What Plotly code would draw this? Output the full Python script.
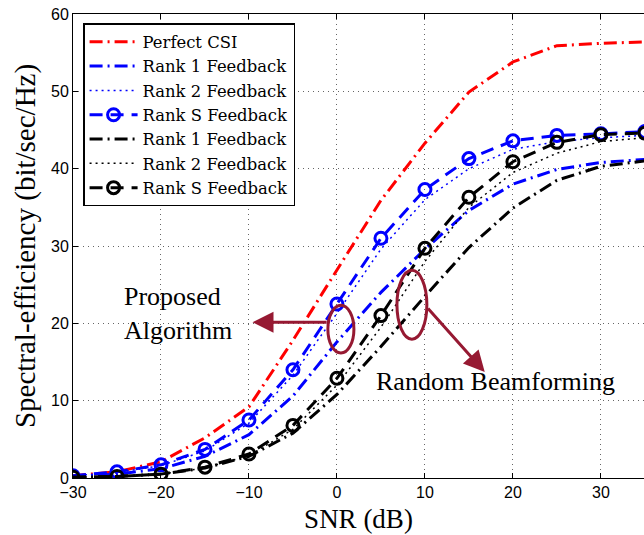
import plotly.graph_objects as go

snr = [-30, -25, -20, -15, -10, -5, 0, 5, 10, 15, 20, 25, 30, 35]

perfect_csi = [0.3, 0.8, 2.1, 5.2, 9.2, 17.8, 26.9, 35.9, 43.3, 49.9, 53.8, 55.9, 56.2, 56.4]
pa_rank1 = [0.2, 0.5, 1.2, 2.8, 5.6, 10.6, 17.6, 24.0, 29.6, 34.6, 38.0, 39.9, 40.8, 41.2]
pa_rank2 = [0.3, 0.7, 1.6, 3.5, 7.1, 13.3, 21.3, 29.6, 36.0, 40.0, 42.5, 43.5, 44.0, 44.3]
pa_rankS = [0.3, 0.8, 1.7, 3.7, 7.5, 14.0, 22.5, 31.0, 37.3, 41.3, 43.6, 44.3, 44.5, 44.8]
rb_rank1 = [0.1, 0.2, 0.5, 1.3, 2.8, 5.8, 10.8, 17.0, 23.5, 29.8, 34.9, 38.5, 40.3, 41.0]
rb_rank2 = [0.1, 0.2, 0.5, 1.3, 2.9, 6.3, 12.0, 19.5, 28.0, 35.0, 39.5, 42.0, 43.5, 44.0]
rb_rankS = [0.1, 0.2, 0.5, 1.4, 3.1, 6.8, 12.9, 21.0, 29.7, 36.3, 40.9, 43.4, 44.4, 44.6]

names = ["Perfect CSI", "Rank 1 Feedback", "Rank 2 Feedback", "Rank S Feedback",
         "Rank 1 Feedback", "Rank 2 Feedback", "Rank S Feedback"]

ARROW = "rgb(150,25,50)"
DASHDOT = "13px,5px,2px,5px"
DASH = "13px,8px"
DOT = "2px,4px"

fig = go.Figure()

def add(y, name, color, dash, width, marker=False):
    fig.add_trace(go.Scatter(
        x=snr, y=y, name=name,
        mode="lines+markers" if marker else "lines",
        line=dict(color=color, dash=dash, width=width),
        marker=dict(symbol="circle-open", size=12, color=color,
                    line=dict(width=3, color=color)) if marker else None,
    ))

add(perfect_csi, names[0], "rgb(255,0,0)", DASHDOT, 3)
add(pa_rank1, names[1], "rgb(0,0,255)", DASHDOT, 3)
add(pa_rank2, names[2], "rgb(0,0,255)", DOT, 1.5)
add(pa_rankS, names[3], "rgb(0,0,255)", DASH, 3, marker=True)
add(rb_rank1, names[4], "black", DASHDOT, 3)
add(rb_rank2, names[5], "black", DOT, 1.5)
add(rb_rankS, names[6], "black", DASH, 3, marker=True)

serif = "Liberation Serif"
sans = "Liberation Sans"

fig.update_layout(
    width=644, height=535,
    margin=dict(l=73, r=0, t=14, b=57),
    plot_bgcolor="white", paper_bgcolor="white",
    showlegend=True,
    legend=dict(
        x=0.018, y=0.98, xanchor="left", yanchor="top",
        font=dict(family="DejaVu Serif", size=16.4, color="black"),
        bgcolor="white", bordercolor="black", borderwidth=1.3,
        tracegroupgap=0, itemwidth=48,
    ),
    xaxis=dict(
        range=[-30, 34.9], tickvals=[-30, -20, -10, 0, 10, 20, 30],
        ticktext=["\u221230", "\u221220", "\u221210", "0", "10", "20", "30"],
        ticks="inside", ticklen=5, tickcolor="black",
        showline=True, linecolor="black", linewidth=1, mirror="ticks",
        showgrid=True, gridcolor="rgba(0,0,0,0.6)", griddash="1px,4px", gridwidth=1,
        zeroline=False,
        tickfont=dict(family=sans, size=16, color="black"),
        title=dict(text="SNR (dB)", font=dict(family=serif, size=27, color="black"), standoff=8),
    ),
    yaxis=dict(
        range=[0, 60], tickvals=[0, 10, 20, 30, 40, 50, 60],
        ticks="inside", ticklen=5, tickcolor="black",
        showline=True, linecolor="black", linewidth=1,
        showgrid=True, gridcolor="rgba(0,0,0,0.6)", griddash="1px,4px", gridwidth=1,
        zeroline=False,
        tickfont=dict(family=sans, size=16, color="black"),
        title=dict(text="Spectral-efficiency (bit/sec/Hz)",
                   font=dict(family=serif, size=29, color="black"), standoff=6),
    ),
)

# ellipses
fig.add_shape(type="circle", xref="x", yref="y", x0=0.45 - 1.48, x1=0.45 + 1.48,
              y0=19.25 - 3.1, y1=19.25 + 3.1, line=dict(color=ARROW, width=3))
fig.add_shape(type="circle", xref="x", yref="y", x0=8.52 - 1.7, x1=8.52 + 1.7,
              y0=22.4 - 4.46, y1=22.4 + 4.46, line=dict(color=ARROW, width=3))

# arrows
fig.add_annotation(x=-9.6, y=20.15, ax=-1.0, ay=20.15, xref="x", yref="y",
                   axref="x", ayref="y", text="", showarrow=True, arrowhead=2,
                   arrowsize=1.4, arrowwidth=3, arrowcolor=ARROW, standoff=0)
fig.add_annotation(x=16.8, y=13.7, ax=10.2, ay=22.1, xref="x", yref="y",
                   axref="x", ayref="y", text="", showarrow=True, arrowhead=2,
                   arrowsize=1.4, arrowwidth=3, arrowcolor=ARROW, standoff=0)

fig.add_annotation(x=-24.4, y=21.25, xref="x", yref="y", xanchor="left",
                   text="Proposed<br>Algorithm", align="left", showarrow=False,
                   font=dict(family=serif, size=26, color="black"))
fig.add_annotation(x=18.0, y=12.5, xref="x", yref="y", xanchor="center",
                   text="Random Beamforming", showarrow=False,
                   font=dict(family=serif, size=26, color="black"))

fig.write_html("out.html")
